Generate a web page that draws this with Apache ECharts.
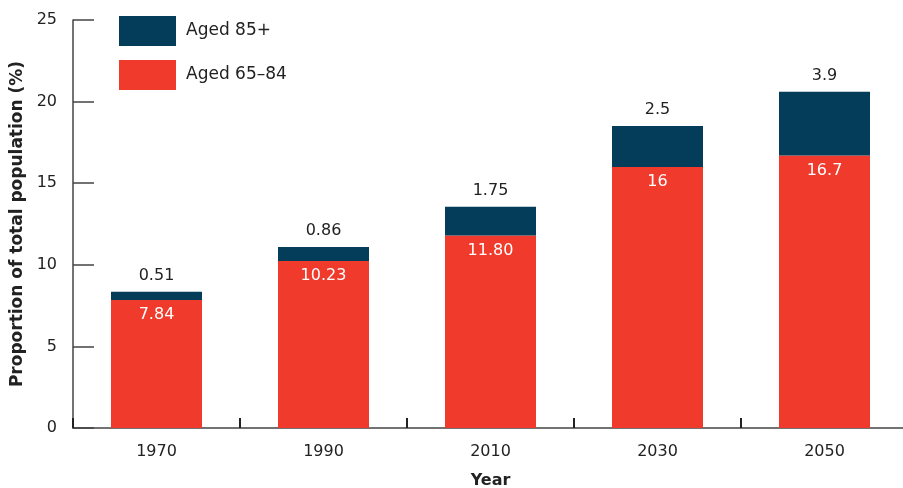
<!DOCTYPE html>
<html>
<head>
<meta charset="utf-8">
<script src="https://cdn.jsdelivr.net/npm/echarts@6/dist/echarts.min.js"></script>
<style>
  html, body { margin: 0; padding: 0; background: #fff; }
  #main { width: 903px; height: 488px; }
</style>
</head>
<body>
<div id="main"></div>
<script>
var years = ['1970', '1990', '2010', '2030', '2050'];
var aged6584 = [7.84, 10.23, 11.80, 16, 16.7];
var aged6584Labels = ['7.84', '10.23', '11.80', '16', '16.7'];
var aged85 = [0.51, 0.86, 1.75, 2.5, 3.9];
var aged85Labels = ['0.51', '0.86', '1.75', '2.5', '3.9'];
var yTicks = [0, 5, 10, 15, 20, 25];

var font = 'DejaVu Sans';
var myChart = echarts.init(document.getElementById('main'));
myChart.setOption({
    animation: false,
    textStyle: { fontFamily: font },
    legend: {
        orient: 'vertical',
        left: 119,
        top: 16,
        padding: 0,
        itemWidth: 57,
        itemHeight: 30,
        itemGap: 14,
        icon: 'rect',
        textStyle: { fontSize: 17, color: '#222', fontFamily: font, padding: [0, 0, 0, 5] },
        data: ['Aged 85+', 'Aged 65–84']
    },
    grid: {
        left: 73,
        top: 20,
        width: 835,
        height: 408,
        containLabel: false,
        outerBoundsMode: 'none'
    },
    xAxis: {
        type: 'category',
        data: years,
        name: 'Year',
        nameLocation: 'middle',
        nameGap: 45,
        nameTextStyle: { fontSize: 16, fontWeight: 'bold', color: '#222', fontFamily: font },
        axisLine: { lineStyle: { color: '#444', width: 1.5 } },
        axisTick: { show: true, inside: true, length: 10, alignWithLabel: false,
            lineStyle: { color: '#222', width: 2 } },
        axisLabel: { fontSize: 16, color: '#222', margin: 16, fontFamily: font }
    },
    yAxis: {
        type: 'value',
        min: 0,
        max: 25,
        interval: 5,
        name: 'Proportion of total population (%)',
        nameLocation: 'middle',
        nameGap: 45,
        nameTextStyle: { fontSize: 17, fontWeight: 'bold', color: '#222', fontFamily: font },
        axisLine: { show: true, lineStyle: { color: '#444', width: 1.5 } },
        axisTick: { show: true, inside: true, length: 21, lineStyle: { color: '#444', width: 1.5 } },
        splitLine: { show: false },
        axisLabel: {
            fontSize: 16, color: '#222', margin: 16, fontFamily: font,
            formatter: function (v) { return yTicks.indexOf(v) >= 0 ? String(v) : ''; }
        }
    },
    series: [
        {
            name: 'Aged 65–84',
            type: 'bar',
            stack: 'total',
            barWidth: 91,
            itemStyle: { color: '#ef3a2c' },
            label: {
                show: true,
                position: 'insideTop',
                distance: 7,
                color: '#fff',
                fontSize: 16,
                fontFamily: font,
                formatter: function (p) { return aged6584Labels[p.dataIndex]; }
            },
            data: aged6584
        },
        {
            name: 'Aged 85+',
            type: 'bar',
            stack: 'total',
            barWidth: 91,
            itemStyle: { color: '#033d5a' },
            label: {
                show: true,
                position: 'top',
                distance: 8,
                color: '#222',
                fontSize: 16,
                fontFamily: font,
                formatter: function (p) { return aged85Labels[p.dataIndex]; }
            },
            data: aged85
        }
    ]
});
</script>
</body>
</html>
